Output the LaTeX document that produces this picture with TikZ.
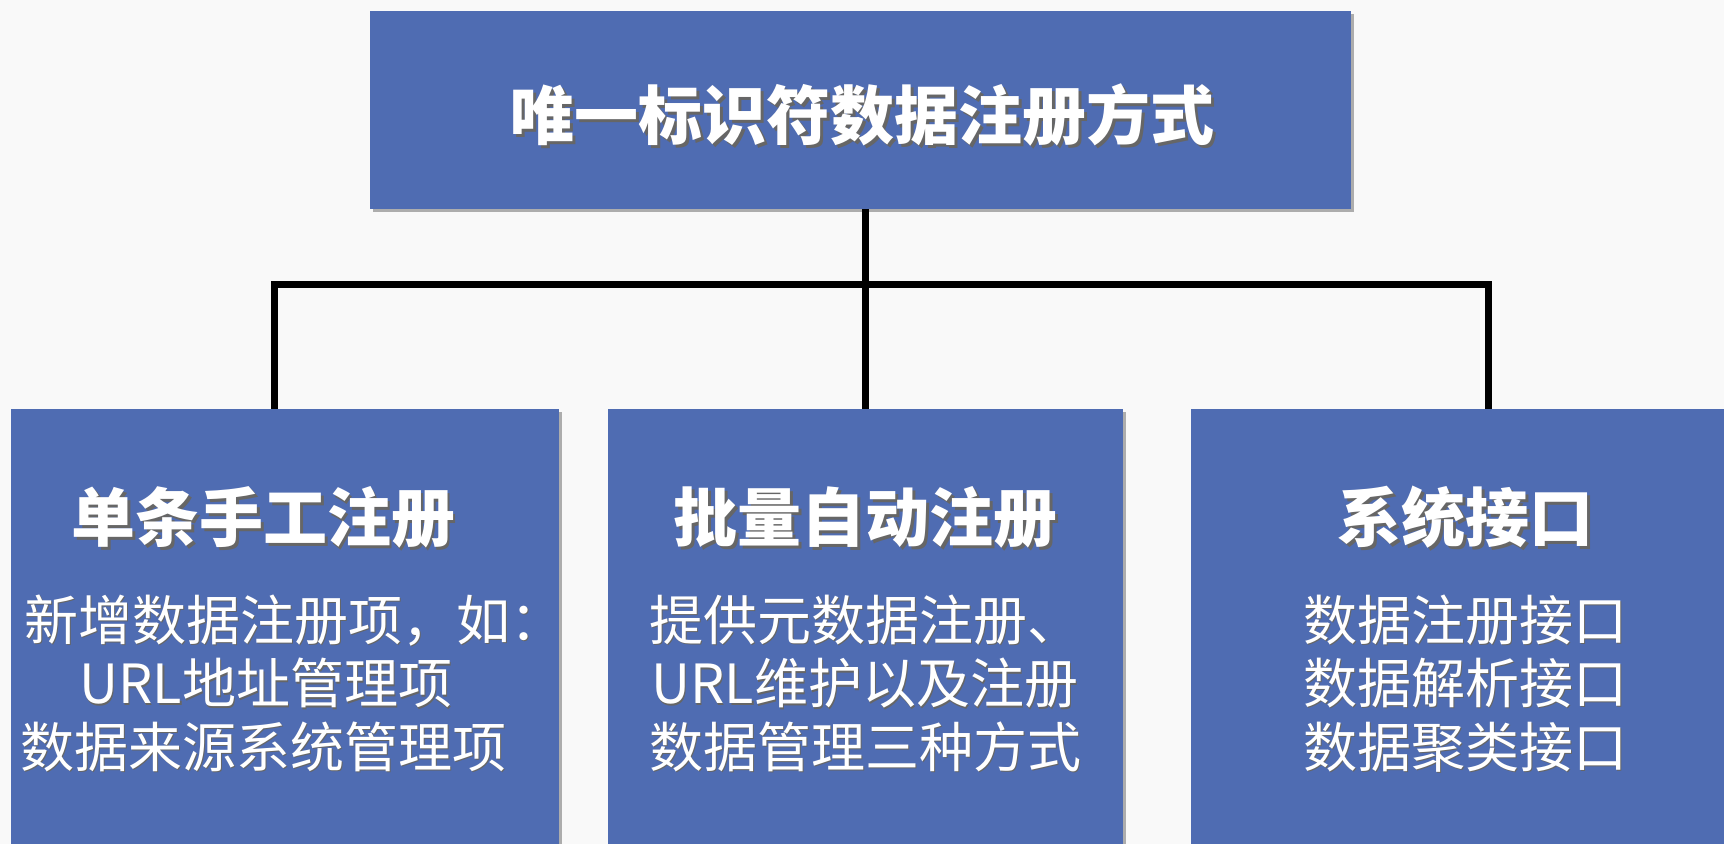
\documentclass[tikz,border=0pt]{standalone}
\usepackage{fontspec}
\setmainfont{Noto Sans CJK SC}
\usetikzlibrary{shadows}

\definecolor{blu}{RGB}{79,108,178}
\definecolor{fondo}{RGB}{249,249,249}
\newcommand{\ombra}[2][1.5pt]{\makebox[0pt][l]{\hspace{#1}\raisebox{-#1}{\textcolor{black!60}{#2}}}#2}

\tikzset{
    riquadro/.style={fill=blu, draw=none, inner sep=0pt, outer sep=0pt,
        drop shadow={shadow xshift=1.5pt, shadow yshift=-1.5pt, opacity=0.3, fill=black}},
    titolo/.style={text=white, inner sep=0pt, font=\fontsize{32}{38}\selectfont\bfseries},
    testo/.style={text=white, inner sep=0pt, align=center, font=\fontsize{27}{31.75}\selectfont},
    barra/.style={line width=3.5pt, black, line join=miter}
}

\begin{document}
\begin{tikzpicture}[x=0.5pt, y=-0.5pt]
        %%%%%%%%% Sfondo %%%%%%%%%
        \fill[fondo] (0,0) rectangle (1724,844);
        \useasboundingbox (0,0) rectangle (1724,844);

        %%%%%%%%% Riquadri %%%%%%%%%
        \node[riquadro, minimum width=490.5pt, minimum height=99pt] (radice) at (860.5,110) {};
        \node[riquadro, minimum width=274pt, minimum height=230.5pt] (sinistra) at (285,639.5) {};
        \node[riquadro, minimum width=257.5pt, minimum height=230.5pt] (centro) at (865.5,639.5) {};
        \node[riquadro, minimum width=284.5pt, minimum height=230.5pt] (destra) at (1475.5,639.5) {};

        %%%%%%%%% Linee %%%%%%%%%
        \coordinate (nodoL) at (274,285);
        \coordinate (nodoR) at (1488,285);
        \draw[barra] (radice.south -| centro.north) -- (centro.north);
        \draw[barra] (sinistra.north -| nodoL) -- (nodoL) -- (nodoR) -- (destra.north -| nodoR);

        %%%%%%%%% Titoli %%%%%%%%%
        \node[titolo] (tradice) at (862,116) {\ombra{唯一标识符数据注册方式}};
        \node[titolo] (tsinistra) at (263,519) {\ombra{单条手工注册}};
        \node[titolo] (tcentro) at (865,519) {\ombra{批量自动注册}};
        \node[titolo] (tdestra) at (1465,519) {\ombra{系统接口}};

        %%%%%%%%% Testi %%%%%%%%%
        \node[testo] (dsinistra) at (294,684) {\ombra[0.6pt]{新增数据注册项，如：}\\
            \ombra[0.6pt]{URL地址管理项}\hspace*{28pt}\mbox{}\\
            \ombra[0.6pt]{数据来源系统管理项}\hspace*{31pt}\mbox{}};
        \node[testo] (dcentro) at (865,684) {\ombra[0.6pt]{提供元数据注册、}\\
            \ombra[0.6pt]{URL维护以及注册}\\
            \ombra[0.6pt]{数据管理三种方式}};
        \node[testo] (ddestra) at (1465,684) {\ombra[0.6pt]{数据注册接口}\\
            \ombra[0.6pt]{数据解析接口}\\
            \ombra[0.6pt]{数据聚类接口}};
\end{tikzpicture}
\end{document}
